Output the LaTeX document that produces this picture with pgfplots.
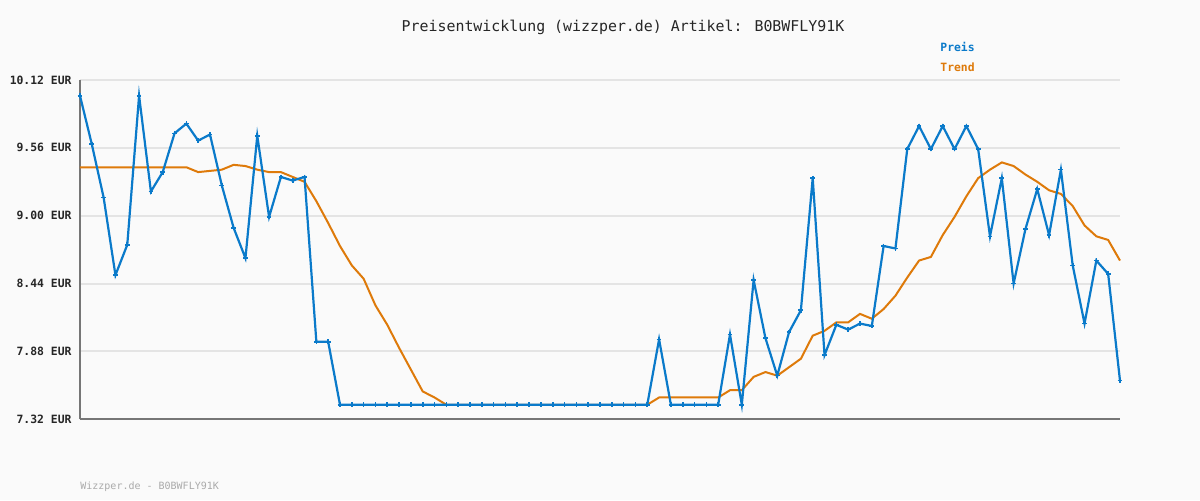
\documentclass[border=0pt]{standalone}
\usepackage{pgfplots}
\pgfplotsset{compat=1.18}
\usepackage{pgfplotstable}
\usepackage{fontspec}
\setmainfont{DejaVu Sans Mono}
\setmonofont{DejaVu Sans Mono}
\definecolor{preis}{RGB}{10,122,202}
\definecolor{trend}{RGB}{222,122,10}
\definecolor{bg}{RGB}{250,250,250}
\definecolor{gridc}{RGB}{228,228,228}
\definecolor{axisc}{RGB}{118,118,118}
\definecolor{footc}{RGB}{170,170,170}
\pgfplotstableread{
x y
0 9.99
1 9.59
2 9.15
3 8.51
4 8.76
5 9.99
6 9.20
7 9.36
8 9.68
9 9.76
10 9.62
11 9.67
12 9.25
13 8.90
14 8.65
15 9.66
16 8.99
17 9.32
18 9.29
19 9.32
20 7.96
21 7.96
22 7.44
23 7.44
24 7.44
25 7.44
26 7.44
27 7.44
28 7.44
29 7.44
30 7.44
31 7.44
32 7.44
33 7.44
34 7.44
35 7.44
36 7.44
37 7.44
38 7.44
39 7.44
40 7.44
41 7.44
42 7.44
43 7.44
44 7.44
45 7.44
46 7.44
47 7.44
48 7.44
49 7.98
50 7.44
51 7.44
52 7.44
53 7.44
54 7.44
55 8.02
56 7.44
57 8.47
58 7.99
59 7.68
60 8.04
61 8.22
62 9.31
63 7.85
64 8.10
65 8.06
66 8.11
67 8.09
68 8.75
69 8.73
70 9.55
71 9.74
72 9.55
73 9.74
74 9.55
75 9.74
76 9.55
77 8.83
78 9.31
79 8.44
80 8.89
81 9.22
82 8.84
83 9.38
84 8.59
85 8.11
86 8.63
87 8.52
88 7.64
}\preistable
\pgfplotstableread{
x y
0 9.40
1 9.40
2 9.40
3 9.40
4 9.40
5 9.40
6 9.40
7 9.40
8 9.40
9 9.40
10 9.36
11 9.37
12 9.38
13 9.42
14 9.41
15 9.38
16 9.36
17 9.36
18 9.32
19 9.28
20 9.12
21 8.94
22 8.75
23 8.59
24 8.48
25 8.26
26 8.10
27 7.91
28 7.73
29 7.55
30 7.50
31 7.44
32 7.44
33 7.44
34 7.44
35 7.44
36 7.44
37 7.44
38 7.44
39 7.44
40 7.44
41 7.44
42 7.44
43 7.44
44 7.44
45 7.44
46 7.44
47 7.44
48 7.44
49 7.50
50 7.50
51 7.50
52 7.50
53 7.50
54 7.50
55 7.56
56 7.56
57 7.67
58 7.71
59 7.68
60 7.75
61 7.82
62 8.01
63 8.05
64 8.12
65 8.12
66 8.19
67 8.15
68 8.23
69 8.34
70 8.49
71 8.63
72 8.66
73 8.84
74 8.99
75 9.16
76 9.31
77 9.38
78 9.44
79 9.41
80 9.34
81 9.28
82 9.21
83 9.18
84 9.08
85 8.92
86 8.83
87 8.80
88 8.63
}\trendtable
\begin{document}
\begin{tikzpicture}[x=1pt,y=1pt]
\fill[bg] (0,0) rectangle (600,250);
\begin{axis}[
  at={(40pt,40.35pt)}, anchor=south west,
  scale only axis, width=520pt, height=169.65pt,
  xmin=0, xmax=88, ymin=7.32, ymax=10.12,
  axis x line*=bottom, axis y line*=left,
  xtick=\empty,
  ytick={7.32,7.88,8.44,9.00,9.56,10.12},
  yticklabels={7.32 EUR,7.88 EUR,8.44 EUR,9.00 EUR,9.56 EUR,10.12 EUR},
  yticklabel style={font=\fontsize{5.7}{6}\selectfont\bfseries, text=black!85, xshift=-0.7pt},
  major tick length=0pt,
  ymajorgrids,
  grid style={line width=1pt, gridc},
  axis line style={line width=1pt, axisc},
  clip=false,
]
\addplot[trend, line width=1pt] table[x=x,y=y]{\trendtable};
\addplot[preis, line width=1.1pt, mark=+, mark size=1.2pt, mark options={line width=0.8pt}] table[x=x,y=y]{\preistable};
\end{axis}
\node[anchor=center, font=\fontsize{7.45}{9}\selectfont, text=black!85] at (311.5,236.5) {Preisentwicklung (wizzper.de) Artikel: B0BWFLY91K};
\node[anchor=west, inner sep=0pt, font=\fontsize{5.7}{7}\selectfont\bfseries, text=preis] at (470,226.5) {Preis};
\node[anchor=west, inner sep=0pt, font=\fontsize{5.7}{7}\selectfont\bfseries, text=trend] at (470,216.5) {Trend};
\node[anchor=west, inner sep=0pt, font=\fontsize{5}{6}\selectfont, text=footc] at (40,6.5) {Wizzper.de - B0BWFLY91K};
\end{tikzpicture}
\end{document}
